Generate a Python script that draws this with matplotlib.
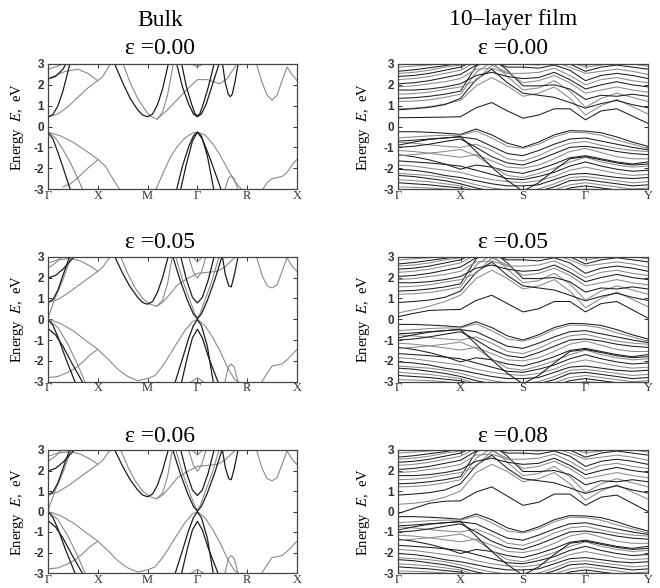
import numpy as np
import matplotlib
matplotlib.use('Agg')
import matplotlib.pyplot as plt

plt.rcParams['mathtext.fontset'] = 'stix'

# ---------------- data ----------------
# bulk path: Gamma-X-M-Gamma-R-X, equal segment lengths
bulk_kpoints = [0, 1, 2, 3, 4, 5]
bulk_klabels = ['Γ', 'X', 'M', 'Γ', 'R', 'X']

# film path: Gamma-X-S-Gamma-Y
film_kpoints = [0, 1, 2, 3, 4]
film_klabels = ['Γ', 'X', 'S', 'Γ', 'Y']
film_k = [0, 0.25, 0.5, 0.75, 1, 1.25, 1.5, 1.75, 2, 2.25, 2.5, 2.75, 3, 3.25, 3.5, 3.75, 4]

energy_ticks = [3, 2, 1, 0, -1, -2, -3]
energy_ticklabels = ['3', '2', '1', '0', '-1', '-2', '-3']

# bulk, eps = 0.00 : (k, E) pairs per band, dark bands first then grey
bulk0_dark = [
    ([0, 0.1, 0.2, 0.3, 0.45], [0.45, 0.58, 1.0, 1.7, 3.1]),
    ([0, 0.15, 0.3, 0.38], [2.28, 2.4, 2.75, 3.1]),
    ([1.33, 1.5, 1.65, 1.8, 1.9, 2.0, 2.1, 2.2, 2.3, 2.42], [3.05, 2.1, 1.35, 0.8, 0.55, 0.47, 0.6, 1.05, 1.8, 3.05]),
    ([2.58, 2.7, 2.82, 2.92, 3.0, 3.08, 3.18, 3.3, 3.44], [3.05, 1.9, 1.1, 0.6, 0.47, 0.6, 1.1, 2.0, 3.05]),
    ([2.68, 2.78, 2.88, 2.95, 3.0, 3.05, 3.12, 3.22, 3.34], [3.05, 1.9, 1.1, 0.62, 0.5, 0.62, 1.1, 1.9, 3.05]),
    ([3.5, 3.56, 3.62, 3.66, 3.7, 3.76, 3.82], [3.05, 2.1, 1.55, 1.43, 1.55, 2.2, 3.05]),
    ([0, 0.1, 0.2, 0.3, 0.45], [-0.27, -0.6, -1.25, -1.95, -3.05]),
    ([2.58, 2.7, 2.82, 2.92, 3.0, 3.08, 3.2, 3.33], [-3.05, -1.9, -1.0, -0.45, -0.27, -0.45, -1.4, -3.05]),
    ([2.66, 2.78, 2.9, 3.0, 3.1, 3.25, 3.48], [-3.05, -1.8, -0.7, -0.27, -0.6, -1.5, -3.05]),
]
bulk0_grey = [
    ([0, 0.2, 0.4, 0.6, 0.8, 1.0, 1.1, 1.2, 1.28], [0.45, 0.6, 0.95, 1.4, 1.85, 2.2, 2.4, 2.8, 3.1]),
    ([0, 0.15, 0.35, 0.6, 0.8, 1.0], [2.3, 2.45, 2.65, 2.75, 2.55, 2.2]),
    ([0, 0.2, 0.4], [2.75, 2.9, 3.1]),
    ([1.5, 1.65, 1.8, 1.95, 2.05, 2.19, 2.3, 2.4, 2.52], [3.05, 2.1, 1.35, 0.8, 0.5, 0.35, 0.7, 1.5, 3.05]),
    ([2.19, 2.4, 2.6, 2.8, 3.0, 3.2, 3.45, 3.6, 3.8], [0.35, 0.8, 1.3, 1.8, 2.25, 2.25, 2.05, 2.3, 3.05]),
    ([2.85, 3.0, 3.15], [3.05, 2.85, 3.05]),
    ([4.18, 4.3, 4.4, 4.5, 4.6, 4.7, 4.8, 4.9, 5.0], [3.05, 2.1, 1.5, 1.27, 1.5, 2.2, 2.85, 2.5, 2.2]),
    ([0, 0.25, 0.5, 0.75, 1.0, 1.15, 1.3, 1.45], [-0.27, -0.45, -0.75, -1.15, -1.57, -1.9, -2.5, -3.05]),
    ([0, 0.15, 0.3, 0.45, 0.6, 0.7], [-0.27, -0.55, -1.1, -1.75, -2.5, -3.05]),
    ([0.3, 0.45, 0.6, 0.8, 1.0], [-2.9, -2.75, -2.45, -2.0, -1.6]),
    ([2.16, 2.3, 2.45, 2.6, 2.75, 2.9, 3.0, 3.15, 3.3, 3.45, 3.6, 3.75, 3.9],
     [-3.05, -2.3, -1.5, -0.95, -0.55, -0.32, -0.27, -0.4, -0.8, -1.35, -2.0, -2.65, -3.05]),
    ([3.55, 3.62, 3.68, 3.74, 3.82], [-3.05, -2.5, -2.35, -2.5, -3.05]),
    ([4.3, 4.4, 4.5, 4.6, 4.7, 4.8, 4.9, 5.0], [-3.05, -2.7, -2.5, -2.45, -2.4, -2.2, -1.85, -1.58]),
]

# bulk, eps = 0.05 / 0.06 (the two panels are practically identical)
bulk5_dark = [
    ([0, 0.1, 0.2, 0.3, 0.44], [0.8, 0.95, 1.4, 2.1, 3.05]),
    ([0, 0.15, 0.3, 0.45, 0.55], [1.98, 2.1, 2.4, 2.8, 3.05]),
    ([1.33, 1.5, 1.65, 1.8, 1.9, 2.0, 2.1, 2.2, 2.3, 2.42], [3.05, 2.2, 1.55, 1.05, 0.8, 0.72, 0.85, 1.3, 2.0, 3.05]),
    ([2.5, 2.65, 2.8, 2.92, 3.0, 3.08, 3.2, 3.35, 3.5], [3.05, 1.9, 0.9, 0.25, 0.02, 0.25, 0.9, 1.9, 3.05]),
    ([2.66, 2.78, 2.9, 3.0, 3.1, 3.22, 3.34], [3.05, 1.9, 1.05, 0.78, 1.05, 1.9, 3.05]),
    ([3.5, 3.56, 3.63, 3.68, 3.74, 3.82], [3.05, 2.15, 1.6, 1.55, 2.1, 3.05]),
    ([0, 0.1, 0.2, 0.35, 0.55], [0.0, -0.3, -0.85, -1.85, -3.05]),
    ([0, 0.15, 0.3, 0.5, 0.7], [-0.45, -0.75, -1.3, -2.2, -3.05]),
    ([2.55, 2.7, 2.82, 2.92, 3.0, 3.08, 3.2, 3.32], [-3.05, -1.9, -0.95, -0.3, -0.02, -0.3, -1.3, -3.05]),
    ([2.68, 2.8, 2.9, 3.0, 3.1, 3.22, 3.42], [-3.05, -1.8, -0.9, -0.48, -0.9, -1.8, -3.05]),
]
bulk5_grey = [
    ([0, 0.2, 0.4, 0.6, 0.8, 1.0, 1.1, 1.2, 1.28], [0.8, 0.95, 1.25, 1.6, 1.95, 2.3, 2.5, 2.85, 3.05]),
    ([0, 0.05, 0.15, 0.3, 0.45], [0.0, 0.4, 1.05, 1.9, 2.9]),
    ([0, 0.2, 0.45, 0.65, 0.85, 1.0], [2.7, 2.85, 2.92, 2.8, 2.55, 2.3]),
    ([0, 0.15, 0.3], [2.45, 2.7, 3.05]),
    ([1.45, 1.6, 1.75, 1.9, 2.05, 2.18, 2.3, 2.4, 2.5], [3.05, 2.2, 1.5, 1.0, 0.72, 0.62, 0.9, 1.7, 3.05]),
    ([2.18, 2.3, 2.45, 2.6, 2.7, 2.8, 3.0, 3.2, 3.4, 3.55, 3.7, 3.8],
     [0.62, 0.8, 1.2, 1.65, 1.8, 1.95, 2.2, 2.25, 2.3, 2.5, 2.85, 3.05]),
    ([2.56, 2.7, 2.85, 2.95, 3.0, 3.05, 3.15, 3.3, 3.44], [3.05, 1.9, 0.9, 0.25, 0.05, 0.25, 0.9, 1.9, 3.05]),
    ([2.82, 2.92, 3.0, 3.08, 3.18], [3.05, 2.25, 1.97, 2.25, 3.05]),
    ([2.88, 3.0, 3.12], [3.05, 2.75, 3.05]),
    ([4.18, 4.3, 4.4, 4.5, 4.6, 4.7, 4.8, 4.9, 5.0], [3.05, 2.1, 1.6, 1.5, 1.65, 2.3, 2.95, 2.55, 2.3]),
    ([0, 0.25, 0.5, 0.75, 1.0, 1.2, 1.4, 1.6, 1.8, 2.0, 2.15, 2.3, 2.45, 2.6, 2.75, 2.9, 3.0],
     [0.0, -0.2, -0.55, -1.0, -1.45, -1.9, -2.4, -2.75, -2.95, -2.85, -2.7, -2.25, -1.7, -1.1, -0.55, -0.12, 0.0]),
    ([0, 0.2, 0.4, 0.6, 0.75], [0.0, -0.4, -1.2, -2.2, -3.05]),
    ([0, 0.2, 0.4, 0.55, 0.7, 0.85, 1.0], [-2.8, -2.75, -2.55, -2.35, -2.05, -1.7, -1.45]),
    ([3.0, 3.15, 3.3, 3.45, 3.6, 3.75, 3.85], [0.0, -0.3, -0.85, -1.5, -2.3, -2.9, -3.05]),
    ([3.55, 3.62, 3.68, 3.74, 3.82], [-3.05, -2.3, -2.15, -2.3, -3.05]),
    ([2.85, 3.0, 3.15], [-3.05, -2.82, -3.05]),
    ([4.28, 4.4, 4.5, 4.6, 4.7, 4.8, 4.9, 5.0], [-3.05, -2.6, -2.25, -2.2, -2.15, -1.95, -1.7, -1.45]),
]

# 10-layer film, eps = 0.00 : energies on film_k
film_cond = [
    [0.42, 0.43, 0.44, 0.45, 0.47, 0.90, 1.15, 0.75, 0.40, 0.55, 0.85, 0.85, 0.32, 0.75, 0.85, 0.50, 0.15],
    [0.85, 0.88, 0.95, 1.08, 1.25, 1.95, 2.35, 1.95, 1.45, 1.60, 1.90, 1.35, 0.55, 1.00, 1.30, 0.95, 0.60],
    [0.80, 0.85, 0.92, 1.05, 1.35, 2.25, 2.75, 2.10, 1.60, 1.50, 1.40, 1.15, 0.88, 1.10, 1.25, 1.05, 0.90],
    [1.20, 1.22, 1.28, 1.40, 1.55, 2.60, 3.10, 2.40, 1.75, 1.85, 2.20, 1.70, 0.92, 1.35, 1.60, 1.40, 1.20],
    [1.35, 1.38, 1.45, 1.55, 1.70, 2.90, 3.30, 2.70, 1.95, 1.95, 2.00, 1.80, 1.30, 1.50, 1.45, 1.55, 1.45],
    [1.55, 1.58, 1.65, 1.78, 1.90, 2.20, 2.95, 2.60, 2.10, 2.20, 2.45, 2.10, 1.60, 1.75, 1.90, 1.75, 1.65],
    [1.75, 1.75, 1.80, 1.90, 2.05, 2.45, 2.60, 2.40, 2.30, 2.35, 2.60, 2.25, 1.80, 2.00, 2.15, 2.00, 1.90],
    [1.90, 1.95, 2.05, 2.15, 2.30, 2.75, 2.80, 2.55, 2.55, 2.60, 2.80, 2.45, 2.00, 2.25, 2.35, 2.20, 2.10],
    [2.05, 2.10, 2.20, 2.35, 2.50, 2.95, 3.10, 2.85, 2.85, 2.80, 2.95, 2.70, 2.20, 2.45, 2.55, 2.45, 2.30],
    [2.25, 2.30, 2.40, 2.55, 2.70, 3.10, 3.20, 3.05, 3.00, 2.95, 3.10, 2.85, 2.55, 2.65, 2.75, 2.65, 2.50],
    [2.40, 2.45, 2.55, 2.70, 2.85, 3.20, 3.30, 3.20, 3.15, 3.10, 3.20, 3.00, 2.65, 2.85, 2.95, 2.85, 2.75],
    [2.55, 2.60, 2.70, 2.85, 2.95, 3.30, 3.40, 3.30, 3.25, 3.20, 3.30, 3.10, 2.85, 2.95, 3.05, 3.00, 2.90],
    [2.65, 2.72, 2.82, 2.92, 3.05, 3.30, 3.40, 3.30, 3.30, 3.30, 3.30, 3.20, 2.95, 3.10, 3.20, 3.10, 3.00],
    [2.85, 2.90, 2.95, 3.02, 3.10, 3.40, 3.50, 3.40, 3.40, 3.40, 3.40, 3.30, 3.05, 3.20, 3.30, 3.20, 3.10],
]
film_val = [
    [-0.25, -0.25, -0.28, -0.32, -0.38, -0.12, -0.40, -0.80, -1.00, -0.75, -0.40, -0.20, -0.22, -0.30, -0.50, -0.75, -0.95],
    [-0.55, -0.50, -0.45, -0.42, -0.42, -0.22, -0.55, -0.95, -1.05, -0.85, -0.50, -0.28, -0.30, -0.42, -0.65, -0.85, -1.05],
    [-0.70, -0.66, -0.60, -0.55, -0.50, -0.60, -0.95, -1.30, -1.40, -1.15, -0.85, -0.60, -0.55, -0.70, -0.85, -1.00, -1.12],
    [-0.75, -0.80, -0.88, -0.95, -1.00, -0.85, -1.15, -1.55, -1.65, -1.40, -1.05, -0.80, -0.72, -0.90, -1.05, -1.15, -1.20],
    [-1.00, -0.95, -0.85, -0.72, -0.60, -1.00, -1.45, -1.75, -1.85, -1.60, -1.30, -1.00, -0.95, -1.05, -1.20, -1.30, -1.35],
    [-1.15, -1.20, -1.28, -1.38, -1.48, -1.35, -1.65, -1.95, -2.00, -1.85, -1.55, -1.20, -1.05, -1.25, -1.45, -1.55, -1.55],
    [-1.35, -1.45, -1.60, -1.80, -2.05, -1.85, -1.95, -2.15, -2.25, -2.05, -1.80, -1.50, -1.40, -1.55, -1.70, -1.80, -1.70],
    [-1.40, -1.35, -1.28, -1.20, -1.10, -1.40, -1.90, -2.35, -2.45, -2.25, -2.00, -1.70, -1.48, -1.70, -1.85, -1.95, -1.90],
    [-1.65, -1.70, -1.75, -1.82, -1.90, -2.10, -2.30, -2.50, -2.55, -2.40, -2.20, -1.90, -1.70, -1.90, -2.05, -2.15, -2.10],
    [-1.85, -1.90, -2.00, -2.10, -2.20, -2.40, -2.55, -2.65, -2.70, -2.60, -2.40, -2.10, -1.95, -2.10, -2.25, -2.35, -2.30],
    [-2.05, -2.10, -2.20, -2.35, -2.45, -2.60, -2.75, -2.85, -2.85, -2.80, -2.55, -2.30, -2.25, -2.35, -2.45, -2.50, -2.45],
    [-2.25, -2.30, -2.35, -2.45, -2.60, -2.80, -2.95, -3.05, -3.10, -3.00, -2.75, -2.45, -2.40, -2.50, -2.60, -2.70, -2.65],
    [-2.35, -2.40, -2.50, -2.60, -2.75, -2.95, -3.10, -3.20, -3.20, -3.10, -2.90, -2.60, -2.55, -2.65, -2.75, -2.85, -2.80],
    [-2.55, -2.60, -2.65, -2.75, -2.85, -3.10, -3.20, -3.30, -3.30, -3.20, -3.05, -2.80, -2.70, -2.80, -2.90, -3.00, -2.95],
    [-2.70, -2.75, -2.80, -2.88, -2.95, -3.20, -3.30, -3.40, -3.40, -3.30, -3.20, -2.95, -2.85, -2.95, -3.05, -3.10, -3.10],
    [-2.90, -2.92, -2.95, -3.00, -3.10, -3.30, -3.40, -3.50, -3.50, -3.40, -3.30, -3.10, -3.00, -3.05, -3.15, -3.20, -3.20],
    [-0.90, -0.75, -0.62, -0.55, -0.48, -1.20, -1.95, -2.60, -3.10, -2.70, -2.10, -1.55, -1.45, -1.60, -1.75, -1.85, -1.80],
]
# lowest conduction bands that move under strain
film5_cond_low = [
    [0.12, 0.28, 0.42, 0.45, 0.47, 0.90, 1.15, 0.75, 0.35, 0.50, 0.85, 0.85, 0.35, 0.75, 0.85, 0.45, 0.05],
    [0.30, 0.45, 0.62, 0.85, 1.15, 1.95, 2.35, 1.95, 1.45, 1.60, 1.90, 1.35, 0.55, 1.00, 1.30, 0.95, 0.60],
]
film8_cond_low = [
    [-0.10, 0.15, 0.40, 0.50, 0.52, 0.95, 1.20, 0.75, 0.30, 0.45, 0.85, 0.85, 0.30, 0.70, 0.80, 0.40, 0.00],
    [0.35, 0.40, 0.50, 0.70, 1.00, 1.90, 2.30, 1.95, 1.45, 1.60, 1.90, 1.35, 0.55, 1.00, 1.30, 0.95, 0.60],
]

col_titles = ['Bulk', '10–layer film']
bulk_eps = ['0.00', '0.05', '0.06']
film_eps = ['0.00', '0.05', '0.08']

DARK = '#1c1c1c'
GREY = '#8a8a8a'

# ---------------- figure ----------------
fig = plt.figure(figsize=(6.6, 5.88), dpi=100)

W, H = 660.0, 588.0
row_px = [(64, 189), (256.7, 381.7), (450, 573)]
col_px = [(48, 297), (398, 648)]


def style_axes(ax, kpoints, klabels, label_x):
    ax.set_ylim(-3, 3)
    ax.set_xlim(kpoints[0], kpoints[-1])
    ax.set_yticks(energy_ticks)
    ax.set_yticklabels(energy_ticklabels, family='Liberation Sans', fontsize=8.5, fontweight='bold')
    ax.set_xticks(kpoints)
    ax.set_xticklabels(klabels, family='Liberation Serif', fontsize=9)
    ax.tick_params(direction='in', length=3, width=0.7, top=True, right=True,
                   pad=0.5, colors='#333333')
    ax.tick_params(axis='y', pad=3)
    for sp in ax.spines.values():
        sp.set_linewidth(0.9)
        sp.set_color('#444444')
    ax.set_ylabel('Energy  $E$,  eV', family='Liberation Serif', fontsize=10.5)
    ax.yaxis.set_label_coords(label_x, 0.5)


for r in range(3):
    y0, y1 = row_px[r]
    # bulk
    x0, x1 = col_px[0]
    ax = fig.add_axes([x0 / W, 1 - y1 / H, (x1 - x0) / W, (y1 - y0) / H])
    dark, grey = (bulk0_dark, bulk0_grey) if r == 0 else (bulk5_dark, bulk5_grey)
    for ks, es in grey:
        ax.plot(ks, es, color=GREY, lw=0.8)
    for ks, es in dark:
        ax.plot(ks, es, color=DARK, lw=0.9)
    style_axes(ax, bulk_kpoints, bulk_klabels, -0.088)

    # film
    x0, x1 = col_px[1]
    ax = fig.add_axes([x0 / W, 1 - y1 / H, (x1 - x0) / W, (y1 - y0) / H])
    cond = list(film_cond)
    if r == 1:
        cond[0:2] = film5_cond_low
    elif r == 2:
        cond[0:2] = film8_cond_low
    for i, es in enumerate(cond + film_val):
        ax.plot(film_k, es, color=DARK if i % 2 == 0 else GREY, lw=0.75)
    style_axes(ax, film_kpoints, film_klabels, -0.105)

# titles
title_y = [48, 242, 436]
for r in range(3):
    fig.text(160 / W, 1 - title_y[r] / H, 'ε =' + bulk_eps[r], ha='center', va='center',
             family='Liberation Serif', fontsize=17)
    fig.text(513 / W, 1 - title_y[r] / H, 'ε =' + film_eps[r], ha='center', va='center',
             family='Liberation Serif', fontsize=17)
fig.text(160 / W, 1 - 20 / H, col_titles[0], ha='center', va='center',
         family='Liberation Serif', fontsize=17)
fig.text(513 / W, 1 - 20 / H, col_titles[1], ha='center', va='center',
         family='Liberation Serif', fontsize=17)

fig.savefig('out.png', dpi=100)
